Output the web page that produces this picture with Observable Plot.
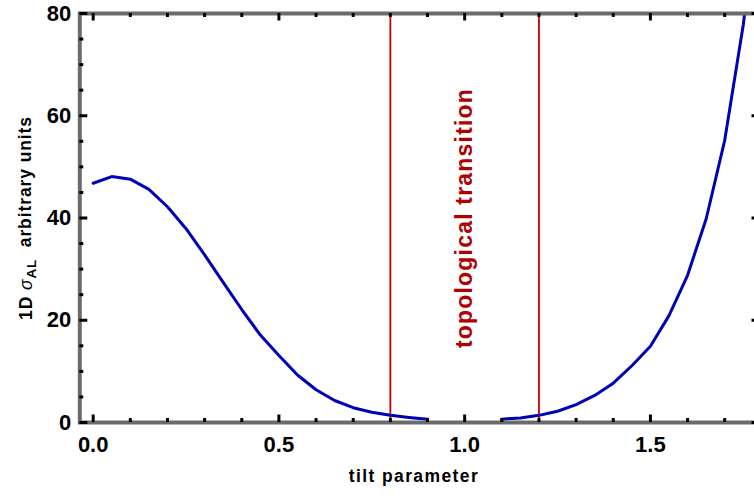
<!DOCTYPE html>
<html>
<head>
<meta charset="utf-8">
<script src="https://cdn.jsdelivr.net/npm/d3@7"></script>
<script src="https://cdn.jsdelivr.net/npm/@observablehq/plot@0.6"></script>
<style>
  html, body { margin: 0; padding: 0; background: white; overflow: hidden; }
</style>
</head>
<body>
<div id="chart"></div>
<script>
// ---- data ----
const tilt = [0.00, 0.05, 0.10, 0.15, 0.20, 0.25, 0.30, 0.35, 0.40, 0.45,
              0.50, 0.55, 0.60, 0.65, 0.70, 0.75, 0.80, 0.85, 0.90, 0.95,
              1.00, 1.05, 1.10, 1.15, 1.20, 1.25, 1.30, 1.35, 1.40, 1.45,
              1.50, 1.55, 1.60, 1.65, 1.70, 1.75, 1.80];
const sigmaAL = [46.8, 48.1, 47.6, 45.6, 42.2, 37.9, 32.8, 27.4, 22.1, 17.1,
                 13.1, 9.3, 6.4, 4.3, 2.9, 2.0, 1.4, 1.0, 0.65, NaN,
                 NaN, NaN, 0.65, 0.9, 1.4, 2.2, 3.5, 5.3, 7.7, 11.1,
                 14.9, 20.9, 28.8, 39.8, 55.2, 77.8, 108];
const transitionX = [0.8, 1.2];
const transitionLabel = ["topological transition"];
const xMajorTicks = [0, 0.5, 1.0, 1.5];
const xMinorTicks = [0.1, 0.2, 0.3, 0.4, 0.6, 0.7, 0.8, 0.9, 1.1, 1.2, 1.3, 1.4, 1.6, 1.7];
const yMajorTicks = [0, 20, 40, 60, 80];
const yMinorTicks = [5, 10, 15, 25, 30, 35, 45, 50, 55, 65, 70, 75];
const xTitle = ["tilt parameter"];
const yTitle = ["1D σAL arbitrary units"];

const data = tilt.map((t, i) => ({tilt: t, sigma: sigmaAL[i]}));

// ---- layout ----
const W = 762, H = 498;
const mL = 79.3, mR = 2.5, mT = 13, mB = 76;
const innerW = W - mL - mR, innerH = H - mT - mB;
const font = "'Liberation Sans', Arial, Helvetica, sans-serif";
const majorLen = 7.5, minorLen = 4;

const tickStyle = {stroke: "black", strokeWidth: 3};

const plot = Plot.plot({
  width: W, height: H,
  marginLeft: mL, marginRight: mR, marginTop: mT, marginBottom: mB,
  style: {fontFamily: font, maxWidth: "none", background: "white"},
  x: {domain: [-0.036, 1.795], axis: null},
  y: {domain: [0, 80], axis: null},
  marks: [
    Plot.ruleX(transitionX, {x: d => d, stroke: "#c20000", strokeWidth: 1.8}),
    Plot.text(transitionLabel, {
      x: () => d3.mean(transitionX), y: () => 40,
      text: d => d, rotate: -90, fill: "#b00000",
      fontSize: 23, fontWeight: "bold", textAnchor: "middle", dy: 0
    }),
    Plot.line(data, {x: "tilt", y: "sigma", stroke: "#0000b4", strokeWidth: 3, clip: true}),
    Plot.frame({stroke: "#6b6b6b", strokeWidth: 4}),
    // ticks, drawn inward on all four sides
    Plot.tickX(xMajorTicks, {x: d => d, insetTop: innerH - majorLen, ...tickStyle}),
    Plot.tickX(xMajorTicks, {x: d => d, insetBottom: innerH - majorLen, ...tickStyle}),
    Plot.tickX(xMinorTicks, {x: d => d, insetTop: innerH - minorLen, ...tickStyle}),
    Plot.tickX(xMinorTicks, {x: d => d, insetBottom: innerH - minorLen, ...tickStyle}),
    Plot.tickY(yMajorTicks, {y: d => d, insetRight: innerW - majorLen - 0.5, ...tickStyle}),
    Plot.tickY(yMajorTicks, {y: d => d, insetLeft: innerW - majorLen - 0.5, ...tickStyle}),
    Plot.tickY(yMinorTicks, {y: d => d, insetRight: innerW - minorLen, ...tickStyle}),
    Plot.tickY(yMinorTicks, {y: d => d, insetLeft: innerW - minorLen, ...tickStyle}),
    // tick labels
    Plot.text(xMajorTicks, {
      x: d => d, text: d => d.toFixed(1), frameAnchor: "bottom", lineAnchor: "top",
      dy: 14, fontSize: 22, fontWeight: "bold", fill: "black"
    }),
    Plot.text(yMajorTicks, {
      y: d => d, text: d => String(d), frameAnchor: "left", textAnchor: "end",
      dx: -8.5, fontSize: 22, fontWeight: "bold", fill: "black"
    }),
    // axis titles
    Plot.text(xTitle, {
      text: d => d, frameAnchor: "bottom", textAnchor: "middle", lineAnchor: "middle",
      dx: -6, dy: 54,
      fontSize: 17.5, fontWeight: "bold", fill: "black"
    }),
    Plot.text(yTitle, {
      text: d => d, frameAnchor: "left", textAnchor: "middle", lineAnchor: "middle",
      rotate: -90, dx: -53, dy: 0,
      fontSize: 17.5, fontWeight: "bold", fill: "black"
    })
  ]
});

document.getElementById("chart").appendChild(plot);

// letter spacing and rich text for titles
const svg = d3.select(plot);
svg.selectAll("text").filter(function() { return this.textContent === transitionLabel[0]; })
  .style("letter-spacing", "1.2px");
svg.selectAll("text").filter(function() { return this.textContent === xTitle[0]; })
  .style("letter-spacing", "1.4px");
svg.selectAll("text").filter(function() { return this.textContent === yTitle[0]; })
  .each(function() {
    const t = d3.select(this);
    t.style("letter-spacing", "0.9px").text(null);
    t.append("tspan").text("1D ");
    t.append("tspan").attr("font-style", "italic").attr("font-weight", "normal").text("σ");
    t.append("tspan").attr("font-size", "13.5px").attr("dy", "0.3em").text("AL");
    t.append("tspan").attr("dy", "-0.3em").text("  arbitrary units");
  });
</script>
</body>
</html>
